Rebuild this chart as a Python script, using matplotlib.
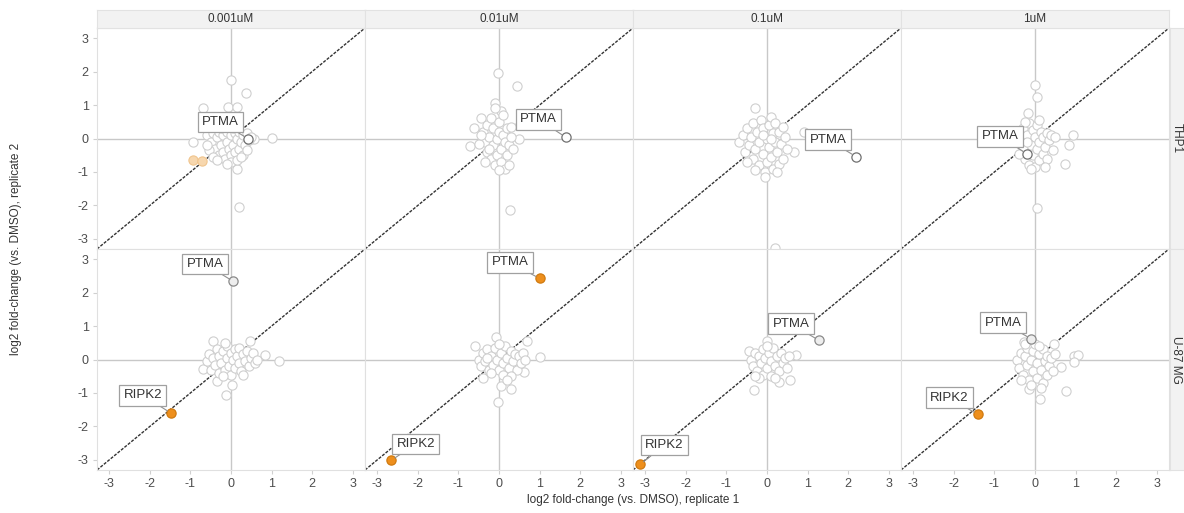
import matplotlib.pyplot as plt

plt.rcParams['font.family'] = ['Liberation Sans', 'DejaVu Sans']
plt.rcParams['axes.unicode_minus'] = False

doses = ['0.001uM', '0.01uM', '0.1uM', '1uM']
cell_lines = ['THP1', 'U-87 MG']

# background proteins per panel: (replicate 1, replicate 2)
thp1_0001 = [(0.0, 1.76), (0.36, 1.36), (-0.7, 0.91), (-0.07, 0.94), (0.16, 0.94), (1.0, 0.02),
             (0.57, -0.01), (-0.93, -0.11), (0.16, -0.91), (0.2, -2.04),
             (-0.6, 0.1), (-0.5, -0.1), (-0.45, 0.15), (-0.4, -0.3), (-0.35, 0.05), (-0.3, -0.5),
             (-0.3, 0.2), (-0.25, -0.2), (-0.2, 0.1), (-0.2, -0.4), (-0.15, -0.6), (-0.1, 0.2),
             (-0.1, -0.1), (-0.05, -0.3), (0.0, 0.1), (0.0, -0.5), (0.05, -0.2), (0.1, 0.15),
             (0.1, -0.4), (0.15, 0.0), (0.2, -0.3), (0.2, 0.2), (0.25, -0.1), (0.3, 0.1),
             (0.3, -0.5), (0.35, -0.2), (0.4, 0.15), (0.45, -0.05), (0.5, 0.05), (-0.55, -0.35),
             (-0.45, -0.55), (-0.6, -0.2), (0.0, -0.7), (-0.1, -0.75), (0.15, -0.65), (0.25, -0.55),
             (-0.35, -0.65), (0.4, -0.35), (-0.25, 0.3), (0.05, 0.3)]
thp1_001 = [(-0.02, 1.95), (0.45, 1.58), (-0.44, 0.62), (-0.61, 0.32), (-0.71, -0.23), (0.5, 0.0),
            (0.27, -2.14), (-0.1, 1.07), (0.05, 0.82),
            (-0.4, 0.2), (-0.35, -0.1), (-0.3, 0.4), (-0.3, -0.4), (-0.25, 0.05), (-0.2, -0.6),
            (-0.2, 0.6), (-0.15, 0.3), (-0.15, -0.2), (-0.1, -0.8), (-0.1, 0.9), (-0.05, 0.0),
            (-0.05, -0.5), (0.0, 0.5), (0.0, 0.2), (0.05, -0.3), (0.05, -0.7), (0.1, 0.1),
            (0.1, 0.7), (0.15, -0.1), (0.15, -0.9), (0.2, 0.3), (0.2, -0.5), (0.25, -0.2),
            (0.3, 0.05), (-0.5, -0.15), (-0.45, 0.1), (-0.35, -0.7), (0.0, -0.95), (0.25, -0.8),
            (-0.25, -0.3), (0.35, -0.3), (0.3, 0.35)]
thp1_01 = [(-0.29, 0.9), (0.66, -0.41), (0.9, 0.19), (0.19, -3.28),
           (-0.7, -0.1), (-0.6, 0.1), (-0.55, -0.4), (-0.5, 0.3), (-0.45, -0.2), (-0.4, 0.05),
           (-0.35, -0.6), (-0.35, 0.45), (-0.3, -0.3), (-0.25, 0.2), (-0.2, -0.8), (-0.2, -0.1),
           (-0.15, 0.55), (-0.1, -0.45), (-0.1, 0.3), (-0.05, -1.0), (0.0, 0.0), (0.0, -0.7),
           (0.05, 0.4), (0.05, -0.25), (0.1, 0.65), (0.1, -0.55), (0.15, 0.15), (0.15, -0.9),
           (0.2, -0.1), (0.2, 0.45), (0.25, -0.4), (0.3, 0.2), (0.3, -0.75), (0.35, -0.15),
           (0.4, 0.35), (0.45, 0.05), (0.5, -0.3), (-0.05, -1.15), (0.25, -1.0), (-0.3, -0.95),
           (-0.5, -0.7), (0.4, -0.6), (-0.1, 0.1), (0.1, 0.0)]
thp1_1 = [(0.0, 1.6), (0.04, 1.24), (-0.17, 0.77), (0.93, 0.09), (0.84, -0.18), (0.73, -0.76),
          (0.04, -2.09),
          (-0.35, 0.0), (-0.3, -0.3), (-0.3, 0.3), (-0.25, -0.6), (-0.2, 0.1), (-0.15, -0.8),
          (-0.15, 0.45), (-0.1, -0.2), (-0.05, 0.25), (-0.05, -0.5), (0.0, 0.05), (0.0, -0.85),
          (0.05, 0.4), (0.05, -0.3), (0.1, -0.1), (0.1, -0.65), (0.15, 0.2), (0.2, -0.45),
          (0.2, 0.05), (0.25, -0.25), (0.3, 0.15), (0.3, -0.6), (0.35, -0.05), (0.4, 0.1),
          (0.45, -0.35), (-0.4, -0.45), (-0.25, 0.5), (0.1, 0.55), (-0.1, -0.9), (0.25, -0.85),
          (0.5, 0.05), (-0.2, -0.1)]
u87_0001 = [(1.18, -0.03), (0.84, 0.12), (-0.13, -1.05), (0.03, -0.75), (-0.34, -0.65),
            (-0.44, 0.55), (0.47, 0.55), (-0.7, -0.28),
            (-0.6, -0.05), (-0.55, 0.15), (-0.5, -0.3), (-0.45, 0.05), (-0.4, -0.15), (-0.35, 0.3),
            (-0.3, -0.4), (-0.3, 0.1), (-0.25, -0.1), (-0.2, 0.25), (-0.15, -0.3), (-0.1, 0.05),
            (-0.1, 0.4), (-0.05, -0.2), (0.0, 0.2), (0.0, -0.45), (0.05, 0.0), (0.1, 0.3),
            (0.1, -0.25), (0.15, 0.1), (0.2, -0.1), (0.2, 0.35), (0.25, -0.35), (0.3, 0.15),
            (0.35, -0.05), (0.4, 0.25), (0.45, -0.2), (0.5, 0.05), (0.55, 0.2), (0.6, -0.1),
            (-0.2, -0.5), (0.3, -0.45), (0.65, 0.0), (-0.15, 0.5)]
u87_001 = [(1.0, 0.07), (-0.02, -1.27), (0.3, -0.88), (0.06, -0.78), (-0.39, -0.56), (-0.58, 0.4),
           (-0.08, 0.68), (0.7, 0.55), (0.61, -0.36),
           (-0.5, 0.0), (-0.45, -0.2), (-0.4, 0.2), (-0.35, -0.05), (-0.3, 0.3), (-0.25, -0.3),
           (-0.2, 0.1), (-0.15, -0.15), (-0.1, 0.35), (-0.05, 0.0), (0.0, -0.3), (0.05, 0.2),
           (0.1, -0.1), (0.15, 0.4), (0.2, 0.05), (0.25, -0.25), (0.3, 0.25), (0.35, -0.05),
           (0.4, 0.15), (0.45, -0.3), (0.5, 0.1), (0.55, -0.1), (0.6, 0.2), (0.65, 0.0),
           (0.1, -0.45), (-0.2, -0.4), (0.3, -0.5), (0.0, 0.45), (0.2, -0.6), (-0.3, 0.05)]
u87_01 = [(-0.33, -0.9), (0.56, -0.6), (0.3, -0.68), (0.72, 0.14), (0.0, 0.54), (-0.44, 0.24),
          (-0.4, 0.0), (-0.35, -0.2), (-0.3, 0.2), (-0.25, -0.35), (-0.2, 0.1), (-0.15, -0.1),
          (-0.1, 0.3), (-0.1, -0.45), (-0.05, 0.05), (0.0, -0.25), (0.05, 0.2), (0.1, -0.05),
          (0.1, -0.5), (0.15, 0.35), (0.2, -0.2), (0.25, 0.1), (0.3, -0.35), (0.35, 0.2),
          (0.4, -0.1), (0.45, 0.05), (0.5, -0.25), (0.55, 0.1), (-0.2, -0.55), (0.0, 0.4),
          (0.2, -0.55), (-0.3, -0.5)]
u87_1 = [(0.95, 0.1), (1.06, 0.12), (0.97, -0.08), (0.76, -0.93), (0.13, -1.18), (-0.16, -0.87),
         (0.46, 0.47), (-0.28, 0.52), (0.65, -0.22),
         (-0.45, 0.0), (-0.4, -0.25), (-0.35, 0.2), (-0.3, -0.45), (-0.25, 0.1), (-0.2, -0.15),
         (-0.2, 0.35), (-0.15, -0.6), (-0.1, 0.0), (-0.05, -0.35), (-0.05, 0.25), (0.0, 0.45),
         (0.05, -0.1), (0.05, -0.55), (0.1, 0.15), (0.15, -0.3), (0.2, 0.3), (0.2, -0.7),
         (0.25, -0.05), (0.3, 0.1), (0.3, -0.45), (0.35, -0.2), (0.4, 0.05), (0.45, -0.35),
         (0.5, 0.15), (-0.1, -0.75), (0.1, 0.4), (-0.35, -0.6), (0.15, -0.85), (-0.25, 0.45)]

# faint orange points in THP1 0.001uM
thp1_faint = [(-0.93, -0.63), (-0.72, -0.68)]

# labelled proteins, one value per dose
ptma_thp1_x = [0.41, 1.64, 2.19, -0.2]
ptma_thp1_y = [0.0, 0.04, -0.54, -0.46]
ptma_u87_x = [0.06, 1.0, 1.28, -0.1]
ptma_u87_y = [2.33, 2.42, 0.57, 0.62]
ptma_u87_hit = [False, True, False, False]
ripk2_u87_x = [-1.48, -2.65, -3.12, -1.41]
ripk2_u87_y = [-1.6, -3.01, -3.13, -1.64]

clouds = [[thp1_0001, thp1_001, thp1_01, thp1_1],
          [u87_0001, u87_001, u87_01, u87_1]]

# label box centres
ptma_thp1_lab = [(-0.26, 0.5), (0.98, 0.57), (1.5, -0.03), (-0.86, 0.06)]
ptma_u87_lab = [(-0.64, 2.85), (0.27, 2.9), (0.59, 1.07), (-0.79, 1.1)]
ripk2_u87_lab = [(-2.17, -1.07), (-2.05, -2.52), (-2.53, -2.56), (-2.11, -1.14)]

W, H = 1184, 513
fig = plt.figure(figsize=(W / 100, H / 100), dpi=100)

col_left = [97, 365, 633, 901]
pw, ph = 268, 221
row_top = [28, 249]
lim = 3.3
orange = '#ee8f1c'
grid_col = '#c8c8c8'
txt_col = '#4d4d4d'


def label(ax, text, pt, lab):
    ax.annotate(text, xy=pt, xytext=lab, ha='center', va='center', fontsize=9.5,
                color='#333333', zorder=6,
                bbox=dict(boxstyle='square,pad=0.32', fc='white', ec='#a0a0a0', lw=0.9),
                arrowprops=dict(arrowstyle='-', color='#909090', lw=0.8, shrinkA=0, shrinkB=3))


for r in range(2):
    for c in range(4):
        ax = fig.add_axes([col_left[c] / W, 1 - (row_top[r] + ph) / H, pw / W, ph / H])
        ax.set_xlim(-lim, lim)
        ax.set_ylim(-lim, lim)
        for s in ax.spines.values():
            s.set_color('#e0e0e0')
            s.set_linewidth(0.8)
        ax.axhline(0, color=grid_col, lw=1, zorder=1)
        ax.axvline(0, color=grid_col, lw=1, zorder=1)
        ax.plot([-lim, lim], [-lim, lim], color='#333333', lw=1.0,
                linestyle=(0, (2.2, 1.0)), zorder=2)
        pts = clouds[r][c]
        ax.scatter([p[0] for p in pts], [p[1] for p in pts], s=44, facecolor='white',
                   edgecolor='#cfcfcf', linewidth=0.8, zorder=3)
        if r == 0:
            if c == 0:
                ax.scatter([p[0] for p in thp1_faint], [p[1] for p in thp1_faint], s=44,
                           facecolor='#f7d7ae', edgecolor='#f0c58e', linewidth=0.8, zorder=3)
            ax.scatter([ptma_thp1_x[c]], [ptma_thp1_y[c]], s=44, facecolor='white',
                       edgecolor='#707070', linewidth=0.9, zorder=4)
            label(ax, 'PTMA', (ptma_thp1_x[c], ptma_thp1_y[c]), ptma_thp1_lab[c])
        else:
            if ptma_u87_hit[c]:
                fc, ec = orange, '#d07a10'
            else:
                fc, ec = '#eeeeee', '#8a8a8a'
            ax.scatter([ptma_u87_x[c]], [ptma_u87_y[c]], s=44, facecolor=fc,
                       edgecolor=ec, linewidth=0.9, zorder=4, clip_on=False)
            ax.scatter([ripk2_u87_x[c]], [ripk2_u87_y[c]], s=44, facecolor=orange,
                       edgecolor='#d07a10', linewidth=0.9, zorder=4, clip_on=False)
            label(ax, 'PTMA', (ptma_u87_x[c], ptma_u87_y[c]), ptma_u87_lab[c])
            label(ax, 'RIPK2', (ripk2_u87_x[c], ripk2_u87_y[c]), ripk2_u87_lab[c])

        ax.set_xticks([-3, -2, -1, 0, 1, 2, 3])
        ax.set_yticks([-3, -2, -1, 0, 1, 2, 3])
        ax.tick_params(length=3, color='#d0d0d0', labelsize=9, labelcolor=txt_col, pad=3)
        if r == 0:
            ax.tick_params(labelbottom=False, bottom=False)
        if c > 0:
            ax.tick_params(labelleft=False, left=False)

        # strips
        if r == 0:
            sax = fig.add_axes([col_left[c] / W, 1 - 28 / H, pw / W, 18 / H])
            sax.set_facecolor('#f2f2f2')
            sax.set_xticks([])
            sax.set_yticks([])
            for s in sax.spines.values():
                s.set_color('#e2e2e2')
            sax.text(0.5, 0.5, doses[c], ha='center', va='center', fontsize=8.5,
                     color='#333333', transform=sax.transAxes)
    rax = fig.add_axes([1170 / W, 1 - (row_top[r] + ph) / H, 16 / W, ph / H])
    rax.set_facecolor('#f2f2f2')
    rax.set_xticks([])
    rax.set_yticks([])
    for s in rax.spines.values():
        s.set_color('#e2e2e2')
    rax.text(0.4, 0.5, cell_lines[r], ha='center', va='center', rotation=270, fontsize=8.5,
             color='#333333', transform=rax.transAxes)

fig.text(633 / W, 1 - 500 / H, 'log2 fold-change (vs. DMSO), replicate 1', ha='center',
         va='center', fontsize=8.5, color='#333333')
fig.text(16 / W, 1 - 249 / H, 'log2 fold-change (vs. DMSO), replicate 2', ha='center',
         va='center', rotation=90, fontsize=8.5, color='#333333')

fig.savefig('out.png', dpi=100)
